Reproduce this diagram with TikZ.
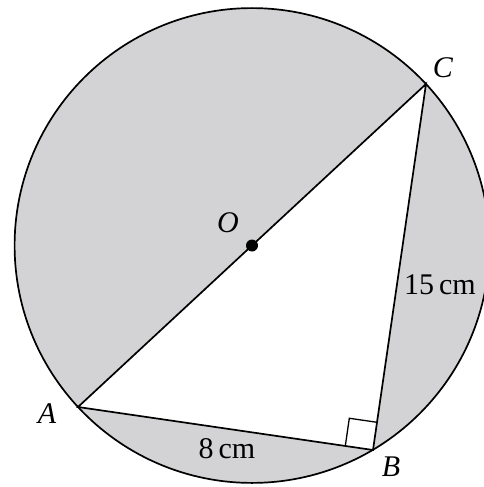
\documentclass[tikz,border=0pt]{standalone}
\usepackage{fontspec}
\setmainfont{Liberation Serif}
\usetikzlibrary{calc}
\definecolor{circlegray}{RGB}{211,211,213}

\begin{document}
\begin{tikzpicture}[
    x=1pt,
    y=-1pt,
    line cap=butt,
    line join=miter,
    every node/.style={font=\fontsize{30}{34}\selectfont},
    edge/.style={line width=1.7pt}
]

\useasboundingbox (0,0) rectangle (484,487);
\clip (0,0) rectangle (484,487);

% Points of the figure
\coordinate (O) at (252,245.5);
\coordinate (A) at (78,407);
\coordinate (B) at (373,450);
\coordinate (C) at (426,84);

% Corners of the right-angle mark
\coordinate (ra1) at ($(B)!28pt!(A)$);
\coordinate (ra2) at ($(B)!28pt!(C)$);
\coordinate (ra3) at ($(ra1)+(ra2)-(B)$);

% Shaded disc and white triangle
\fill[circlegray] (O) circle[radius=237.4];
\fill[white] (A) -- (B) -- (C) -- cycle;

% Outline
\draw[edge] (O) circle[radius=237.4];
\draw[edge] (A) -- (B) -- (C) -- cycle;

% Right angle at B
\draw[line width=1.3pt] (ra1) -- (ra3) -- (ra2);

% Centre
\fill (O) circle[radius=6];

% Labels
\node (labO) at (228,223) {\textit{O}};
\node (labA) at (47,414) {\textit{A}};
\node (labB) at (391,467) {\textit{B}};
\node (labC) at (443,68) {\textit{C}};
\node (labBC) at (440,285) {15\,cm};
\node (labAB) at (227,449) {8\,cm};

\end{tikzpicture}
\end{document}
